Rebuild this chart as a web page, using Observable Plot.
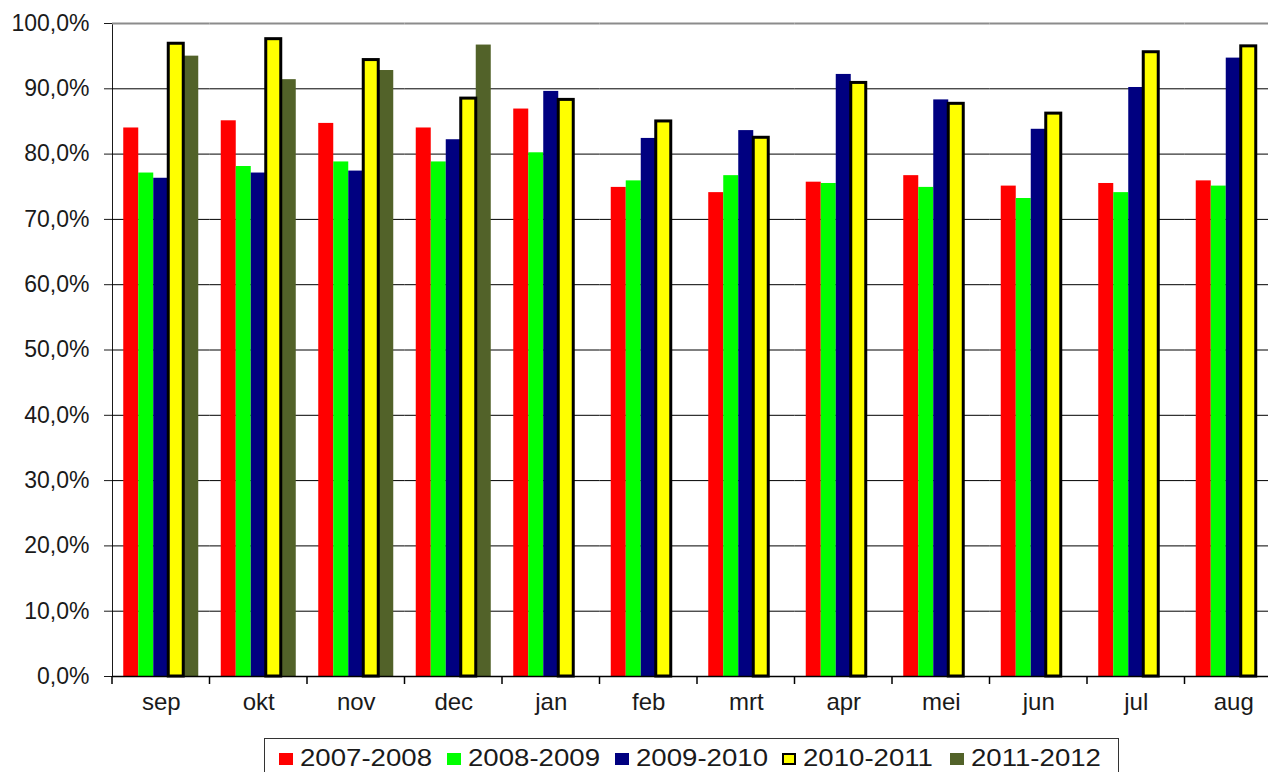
<!DOCTYPE html>
<html>
<head>
<meta charset="utf-8">
<script src="https://cdn.jsdelivr.net/npm/d3@7"></script>
<script src="https://cdn.jsdelivr.net/npm/@observablehq/plot@0.6"></script>
<style>
  html, body { margin: 0; padding: 0; background: #fff; overflow: hidden; }
  #chart svg { display: block; max-width: none !important; }
  #legend {
    margin-left: 264px; margin-top: 12px; width: 855px; height: 44px;
    border: 1px solid #333; box-sizing: border-box; display: flex;
    padding-left: 14px; padding-top: 7px;
    font-family: "Liberation Sans", Arial, sans-serif; color: #1a1a1a;
  }
  .item { width: 170px; display: flex; align-items: center; height: 24px; }
  .sw { width: 14px; height: 12px; margin-right: 7px; box-sizing: border-box; margin-top: 2px; }
  .lbl { display: inline-block; font-size: 24px; line-height: 24px; transform: scaleX(1.15); transform-origin: left center; white-space: nowrap; }
</style>
</head>
<body>
<div id="chart"></div>
<div id="legend"></div>
<script>
const months = ["sep", "okt", "nov", "dec", "jan", "feb", "mrt", "apr", "mei", "jun", "jul", "aug"];
const series = ["2007-2008", "2008-2009", "2009-2010", "2010-2011", "2011-2012"];
const colors = ["#ff0000", "#00ff00", "#000080", "#ffff00", "#526229"];
const yTicks = [0, 10, 20, 30, 40, 50, 60, 70, 80, 90, 100];

const v0708 = [84.0, 85.1, 84.7, 84.0, 86.9, 74.9, 74.1, 75.7, 76.7, 75.1, 75.5, 75.9];
const v0809 = [77.1, 78.1, 78.8, 78.8, 80.2, 75.9, 76.7, 75.5, 74.9, 73.2, 74.1, 75.1];
const v0910 = [76.3, 77.1, 77.4, 82.2, 89.6, 82.4, 83.6, 92.2, 88.3, 83.8, 90.2, 94.7];
const v1011 = [96.9, 97.6, 94.4, 88.5, 88.3, 85.0, 82.5, 90.9, 87.7, 86.2, 95.6, 96.5];
const v1112 = [95.0, 91.4, 92.8, 96.7];

const valueLists = [v0708, v0809, v0910, v1011, v1112];
const data = [];
months.forEach((m, i) => {
  series.forEach((s, j) => {
    const v = valueLists[j][i];
    if (v != null) data.push({month: m, series: s, value: v});
  });
});

const highlighted = "2010-2011";

const chart = Plot.plot({
  width: 1282,
  height: 726,
  marginLeft: 112,
  marginRight: 0,
  marginTop: 23,
  marginBottom: 50,
  style: {fontFamily: "'Liberation Sans', Arial, sans-serif", fontSize: "23px", color: "#1a1a1a", background: "white", overflow: "visible"},
  facet: {data: data, x: "month"},
  fx: {domain: months, padding: 0, round: false, label: null, tickSize: 0, tickPadding: 16, axis: "bottom"},
  x: {domain: series, paddingInner: 0, paddingOuter: 0.75, round: false, axis: null},
  y: {domain: [0, 100], ticks: yTicks, tickFormat: d => d.toFixed(1).replace(".", ",") + "%", tickSize: 8, tickPadding: 15, label: null, line: true},
  color: {domain: series, range: colors},
  marks: [
    Plot.ruleY(yTicks.slice(1, -1), {stroke: "#000", strokeWidth: 1}),
    Plot.ruleY([100], {stroke: "#8c8c8c", strokeWidth: 2}),
    Plot.barY(data, {filter: d => d.series !== highlighted, x: "series", y: "value", fill: "series"}),
    Plot.barY(data, {filter: d => d.series === highlighted, x: "series", y: "value", fill: "series", stroke: "#000", strokeWidth: 3}),
    Plot.ruleY([0], {stroke: "#000", strokeWidth: 1.5})
  ]
});
document.getElementById("chart").appendChild(chart);
chart.style.maxWidth = "none";

// x label size
d3.select(chart).selectAll('[aria-label^="fx-axis"] text').style("font-size", "24px");

// band boundary ticks on bottom axis
try {
  const fx = chart.scale("fx");
  const y = chart.scale("y");
  const y0 = y.apply(0);
  const bounds = months.map(m => fx.apply(m));
  bounds.push(fx.apply(months[months.length - 1]) + fx.bandwidth);
  const g = d3.select(chart).append("g").attr("stroke", "#000").attr("stroke-width", 1.5);
  bounds.forEach(b => {
    g.append("line").attr("x1", b).attr("x2", b).attr("y1", y0).attr("y2", y0 + 8);
  });
} catch (e) { console.error(e); }

// legend
const legend = d3.select("#legend");
series.forEach((s, i) => {
  const it = legend.append("div").attr("class", "item");
  const sw = it.append("div").attr("class", "sw").style("background", colors[i]);
  if (s === highlighted) sw.style("border", "2px solid #000");
  it.append("span").attr("class", "lbl").text(s);
});
</script>
</body>
</html>
